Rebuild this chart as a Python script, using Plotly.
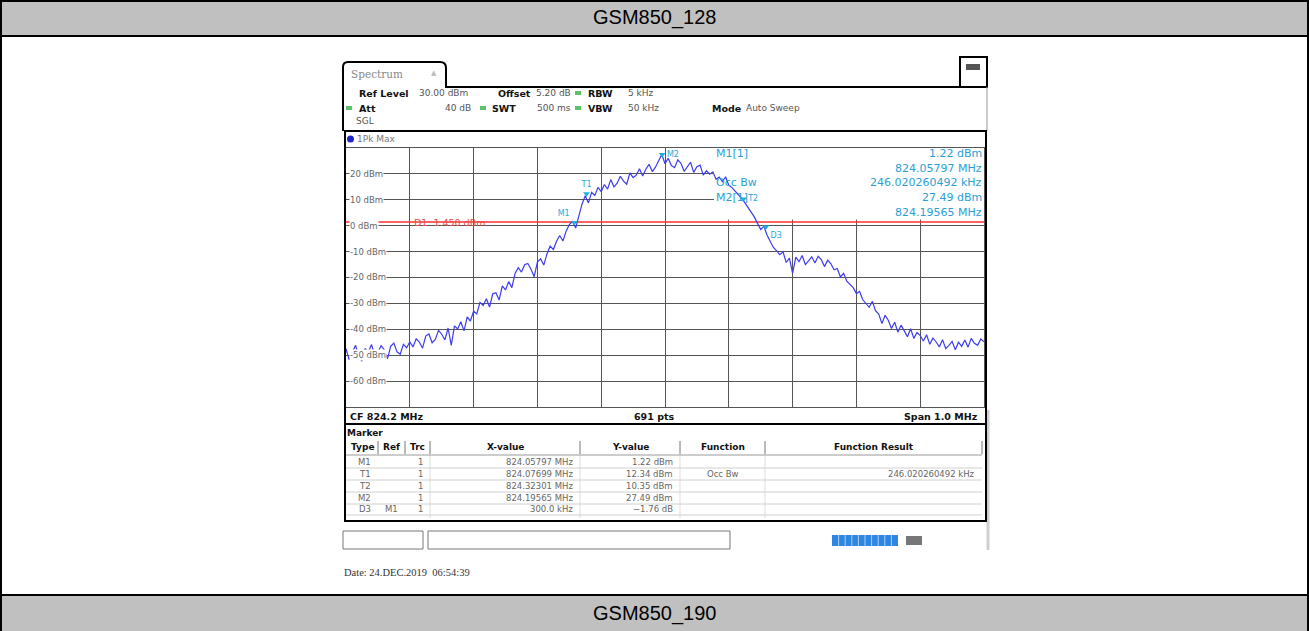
import numpy as np
import plotly.graph_objects as go

W, H = 1309, 631

# ---------------- data ----------------
title_top = "GSM850_128"
title_bottom = "GSM850_190"
center_freq_mhz = 824.2
span_mhz = 1.0
ref_level_dbm = 30.0
bottom_level_dbm = -70.0
trace_dbm = [
    -47.5, -51.8, -48.9, -46.2, -50.7, -52.3, -47.4, -48.8, -45.9, -50.1,
    -49.0, -46.3, -47.9, -51.4, -46.6, -45.3, -48.7, -49.6, -45.8, -47.1, -44.9,
    -46.8, -43.7, -44.9, -47.3, -42.6, -41.8, -45.2, -43.9, -40.4, -41.9,
    -44.1, -39.5, -46.2, -38.7, -39.9, -37.1, -40.6, -35.2, -36.8, -33.0,
    -34.1, -29.6, -30.8, -28.2, -31.4, -26.3, -25.9, -28.7, -23.2, -24.8,
    -21.6, -23.9, -18.4, -16.2, -17.9, -15.1, -14.6, -16.8, -19.7, -14.0,
    -12.8, -15.2, -10.9, -7.9, -9.2, -6.0, -3.8, -5.9, -2.1, 0.4,
    1.6, -0.9, 3.9, 8.4, 11.6, 8.8, 12.9, 11.7, 14.8, 13.2,
    15.9, 14.1, 17.8, 15.0, 16.4, 19.1, 17.2, 16.0, 20.4, 18.6,
    19.5, 22.0, 19.2, 21.8, 23.7, 20.9, 22.6, 25.1, 27.5, 23.9,
    26.0, 23.2, 22.4, 25.4, 24.1, 21.0, 22.9, 24.5, 20.6, 22.8,
    23.4, 19.5, 21.2, 19.9, 20.8, 17.9, 18.8, 17.0, 18.9, 15.6,
    14.7, 13.4, 11.9, 10.6, 8.9, 7.0, 5.1, 3.4, 0.9, -1.5,
    -0.2, -3.7, -6.1, -8.4, -9.7, -11.2, -10.1, -14.2, -12.5, -18.4,
    -12.1, -13.9, -11.5, -15.0, -13.6, -12.0, -14.4, -11.8, -13.1, -15.8,
    -13.3, -14.7, -17.0, -16.5, -19.8, -18.4, -21.4, -22.6, -23.9, -26.2,
    -25.4, -28.6, -29.9, -31.5, -29.2, -32.8, -34.1, -37.8, -34.6, -36.5,
    -39.7, -37.3, -41.1, -38.4, -40.6, -42.9, -39.8, -43.5, -41.2, -42.4,
    -44.5, -42.1, -45.8, -43.4, -44.9, -46.8, -44.0, -47.5, -46.2, -44.7,
    -47.9, -45.0, -46.6, -44.1, -46.9, -43.5, -45.4, -46.2, -43.7, -44.8,
]
ytick_dbm = [20, 10, 0, -10, -20, -30, -40, -50, -60]
display_line_dbm = 1.45
display_line_label = "D1  1.450 dBm"

marker_names = ["M1", "T1", "T2", "M2", "D3"]
marker_freq_mhz = [824.05797, 824.07699, 824.32301, 824.19565, 824.35797]
marker_level_dbm = [1.22, 12.34, 10.35, 27.49, -0.54]

info_left = ["M1[1]", "", "Occ Bw", "M2[1]", ""]
info_right = ["1.22 dBm", "824.05797 MHz", "246.020260492 kHz", "27.49 dBm", "824.19565 MHz"]

# (text, bold, x, anchor)
hdr_row1 = [("Ref Level", True, 358, "left"), ("30.00 dBm", False, 418, "left"),
            ("Offset", True, 497, "left"), ("5.20 dB", False, 572, "right"),
            ("RBW", True, 587, "left"), ("5 kHz", False, 627, "left")]
hdr_row2 = [("Att", True, 358, "left"), ("40 dB", False, 472, "right"),
            ("SWT", True, 491, "left"), ("500 ms", False, 572, "right"),
            ("VBW", True, 587, "left"), ("50 kHz", False, 627, "left"),
            ("Mode", True, 711, "left"), ("Auto Sweep", False, 745, "left")]

table_header = ["Type", "Ref", "Trc", "X-value", "Y-value", "Function", "Function Result"]
table_rows = [
    ["M1", "", "1", "824.05797 MHz", "1.22 dBm", "", ""],
    ["T1", "", "1", "824.07699 MHz", "12.34 dBm", "Occ Bw", "246.020260492 kHz"],
    ["T2", "", "1", "824.32301 MHz", "10.35 dBm", "", ""],
    ["M2", "", "1", "824.19565 MHz", "27.49 dBm", "", ""],
    ["D3", "M1", "1", "300.0 kHz", "\u22121.76 dB", "", ""],
]
date_text = "Date: 24.DEC.2019  06:54:39"

# ---------------- helpers ----------------
def X(px):
    return px / W

def Y(py):
    return 1 - py / H

shapes = []
annotations = []

def rect(x0, y0, x1, y1, fill=None, line_color=None, lw=1, layer="below"):
    shapes.append(dict(type="rect", xref="paper", yref="paper",
                       x0=X(x0), x1=X(x1), y0=Y(y1), y1=Y(y0),
                       fillcolor=fill if fill else "rgba(0,0,0,0)",
                       line=dict(color=line_color if line_color else "rgba(0,0,0,0)", width=lw if line_color else 0),
                       layer=layer))

def hline(x0, x1, y, color="black", lw=1, layer="above"):
    shapes.append(dict(type="line", xref="paper", yref="paper",
                       x0=X(x0), x1=X(x1), y0=Y(y), y1=Y(y),
                       line=dict(color=color, width=lw), layer=layer))

def vline(x, y0, y1, color="black", lw=1, layer="above"):
    shapes.append(dict(type="line", xref="paper", yref="paper",
                       x0=X(x), x1=X(x), y0=Y(y0), y1=Y(y1),
                       line=dict(color=color, width=lw), layer=layer))

def text(x, y, s, size=8, color="#333333", anchor="left", bold=False, family="DejaVu Sans", bg=None):
    if bold:
        s = "<b>" + s + "</b>"
    a = dict(x=X(x), y=Y(y), xref="paper", yref="paper", text=s, showarrow=False,
             xanchor=anchor, yanchor="middle", font=dict(size=size, color=color, family=family),
             borderpad=0)
    if bg:
        a["bgcolor"] = bg
    annotations.append(a)

# ---------------- document frame ----------------
rect(0, 1, 1309, 36, fill="#c0c0c0")
rect(0, 595, 1309, 632, fill="#c0c0c0")
hline(0, 1309, 1, lw=2)
hline(0, 1309, 36, lw=2)
hline(0, 1309, 595, lw=2)
vline(1, 0, 631, lw=2)
vline(1308, 0, 631, lw=2)
text(654.5, 18, title_top, size=20, color="black", anchor="center", family="Liberation Sans")
text(654.5, 613, title_bottom, size=20, color="black", anchor="center", family="Liberation Sans")

# ---------------- instrument screen ----------------
shapes.append(dict(type="path", xref="paper", yref="paper",
                   path="M {},{} L {},{} Q {},{} {},{} L {},{} Q {},{} {},{} L {},{} L {},{}".format(
                       X(343), Y(131), X(343), Y(67), X(343), Y(62), X(348), Y(62),
                       X(440), Y(62), X(446), Y(62), X(446), Y(68), X(446), Y(87), X(960), Y(87)),
                   line=dict(color="black", width=2), layer="above"))
rect(960, 57, 987, 87, line_color="black", lw=2, layer="above")
rect(966, 64, 980, 70, fill="#555555")
text(350, 74, "Spectrum", size=10.5, color="#888888", family="DejaVu Serif")
text(430, 73, "\u25B2", size=7, color="#bbbbbb")
vline(987, 87, 131, lw=1, color="#999999")

for s, b, x, anc in hdr_row1:
    text(x, 93, s, size=9.5 if b else 9, color="#111111" if b else "#555555", bold=b, anchor=anc)
for s, b, x, anc in hdr_row2:
    text(x, 108, s, size=9.5 if b else 9, color="#111111" if b else "#555555", bold=b, anchor=anc)
for gx, gy in [(578, 93), (349, 108), (483, 108), (578, 108)]:
    rect(gx - 3, gy - 2, gx + 3, gy + 2, fill="#5cc26a")
text(355, 121, "SGL", size=9, color="#555555")

rect(345, 131, 986, 424, line_color="black", lw=2, layer="above")
shapes.append(dict(type="circle", xref="paper", yref="paper",
                   x0=X(347), x1=X(354), y0=Y(142.5), y1=Y(135.5),
                   fillcolor="#2222cc", line=dict(width=0), layer="above"))
text(356, 139, "1Pk Max", size=9, color="#777777")

text(349, 416, "CF 824.2 MHz", size=9.5, color="#111111", bold=True)
text(654, 416, "691 pts", size=9.5, color="#111111", anchor="center", bold=True)
text(979, 416, "Span 1.0 MHz", size=9.5, color="#111111", anchor="right", bold=True)

for v in ytick_dbm:
    py = 148 + (ref_level_dbm - v) * (407 - 148) / (ref_level_dbm - bottom_level_dbm)
    text(349, py, "{} dBm".format(v), size=8.5, color="#666666", bg="white")

dl_py = 148 + (ref_level_dbm - display_line_dbm) * (407 - 148) / (ref_level_dbm - bottom_level_dbm)
text(413, dl_py + 1, display_line_label, size=9.5, color="#e84a4a")

info_y = [153, 168, 183, 198, 212]
for s, yy in zip(info_left, info_y):
    if s:
        text(715, yy, s, size=11, color="#2a9fd6")
for s, yy in zip(info_right, info_y):
    text(983, yy, s, size=11, color="#2a9fd6", anchor="right")

rect(345, 424, 986, 521, line_color="black", lw=2, layer="above")
text(346, 433, "Marker", size=9, color="#111111", bold=True)
col_sep = [378, 405, 430, 580, 680, 765, 982]
col_left = [346, 378, 405, 430, 580, 680, 765]
col_right = [378, 405, 430, 580, 680, 765, 982]
for x in col_sep:
    vline(x, 441, 454, color="#777777", lw=1)
hline(346, 982, 455, color="#999999", lw=1)
for i, h in enumerate(table_header):
    text((col_left[i] + col_right[i]) / 2, 447, h, size=9, color="#111111", anchor="center", bold=True)
row_y = [462, 474, 486, 498, 509]
row_align = ["right", "right", "right", "right", "right", "center", "right"]
for r, yy in zip(table_rows, row_y):
    hline(346, 982, yy + 6, color="#d0d0d0", lw=1)
    for i, s in enumerate(r):
        if not s:
            continue
        if row_align[i] == "right":
            text(col_right[i] - 6, yy, s, size=8.5, color="#666666", anchor="right")
        else:
            text((col_left[i] + col_right[i]) / 2, yy, s, size=8.5, color="#666666", anchor="center")
for x in [430, 580, 680, 765]:
    vline(x, 455, 518, color="#dddddd", lw=1, layer="below")
vline(988, 410, 550, color="#cfcfcf", lw=3, layer="below")

shapes.append(dict(type="rect", xref="paper", yref="paper", x0=X(343), x1=X(423), y0=Y(549), y1=Y(531),
                   line=dict(color="#777777", width=1), fillcolor="white", layer="above"))
shapes.append(dict(type="rect", xref="paper", yref="paper", x0=X(428), x1=X(730), y0=Y(549), y1=Y(531),
                   line=dict(color="#777777", width=1), fillcolor="white", layer="above"))
rect(832, 535, 898, 546, fill="#2f86e0")
for k in range(1, 10):
    vline(832 + k * 6.6, 535, 546, color="#a9cff5", lw=1)
rect(906, 536, 922, 545, fill="#777777")
text(343, 572, date_text, size=10.5, color="#333333", family="Liberation Serif")

# ---------------- spectrum plot ----------------
freqs = np.linspace(center_freq_mhz - span_mhz / 2, center_freq_mhz + span_mhz / 2, len(trace_dbm))
x0f, x1f = center_freq_mhz - span_mhz / 2, center_freq_mhz + span_mhz / 2

shapes.append(dict(type="rect", xref="x", yref="y",
                   x0=x0f + (714 - 346) / 638 * span_mhz, x1=x1f, y0=2.4, y1=ref_level_dbm,
                   fillcolor="white", line=dict(width=0), layer="between"))
shapes.append(dict(type="line", xref="x", yref="y", x0=x0f, x1=x1f,
                   y0=display_line_dbm, y1=display_line_dbm,
                   line=dict(color="#ff3030", width=1.5), layer="between"))

fig = go.Figure()
fig.add_trace(go.Scatter(x=freqs, y=trace_dbm, mode="lines",
                         line=dict(color="#3c3cf0", width=1.2), hoverinfo="skip", showlegend=False))
fig.add_trace(go.Scatter(x=marker_freq_mhz, y=marker_level_dbm, mode="markers+text",
                         marker=dict(symbol="triangle-down", size=6, color="#22aee0"),
                         text=marker_names,
                         textposition=["top left", "top center", "middle right", "middle right", "bottom right"],
                         textfont=dict(size=8, color="#29a8d8", family="DejaVu Sans"),
                         hoverinfo="skip", showlegend=False))

fig.update_layout(
    width=W, height=H, margin=dict(l=0, r=0, t=0, b=0),
    paper_bgcolor="white", plot_bgcolor="white",
    xaxis=dict(domain=[X(346), X(984)], range=[x0f, x1f], dtick=0.1, tick0=x0f,
               showgrid=True, gridcolor="#555555", gridwidth=1, showticklabels=False,
               zeroline=False, showline=True, mirror=True, linecolor="#555555", ticks=""),
    yaxis=dict(domain=[Y(407), Y(148)], range=[bottom_level_dbm, ref_level_dbm], dtick=10,
               showgrid=True, gridcolor="#555555", gridwidth=1, showticklabels=False,
               zeroline=False, showline=True, mirror=True, linecolor="#555555", ticks=""),
    shapes=shapes, annotations=annotations,
)

fig.write_html("out.html", config={"displayModeBar": False},
               post_script="document.body.style.margin='0';document.body.style.overflow='hidden';")
